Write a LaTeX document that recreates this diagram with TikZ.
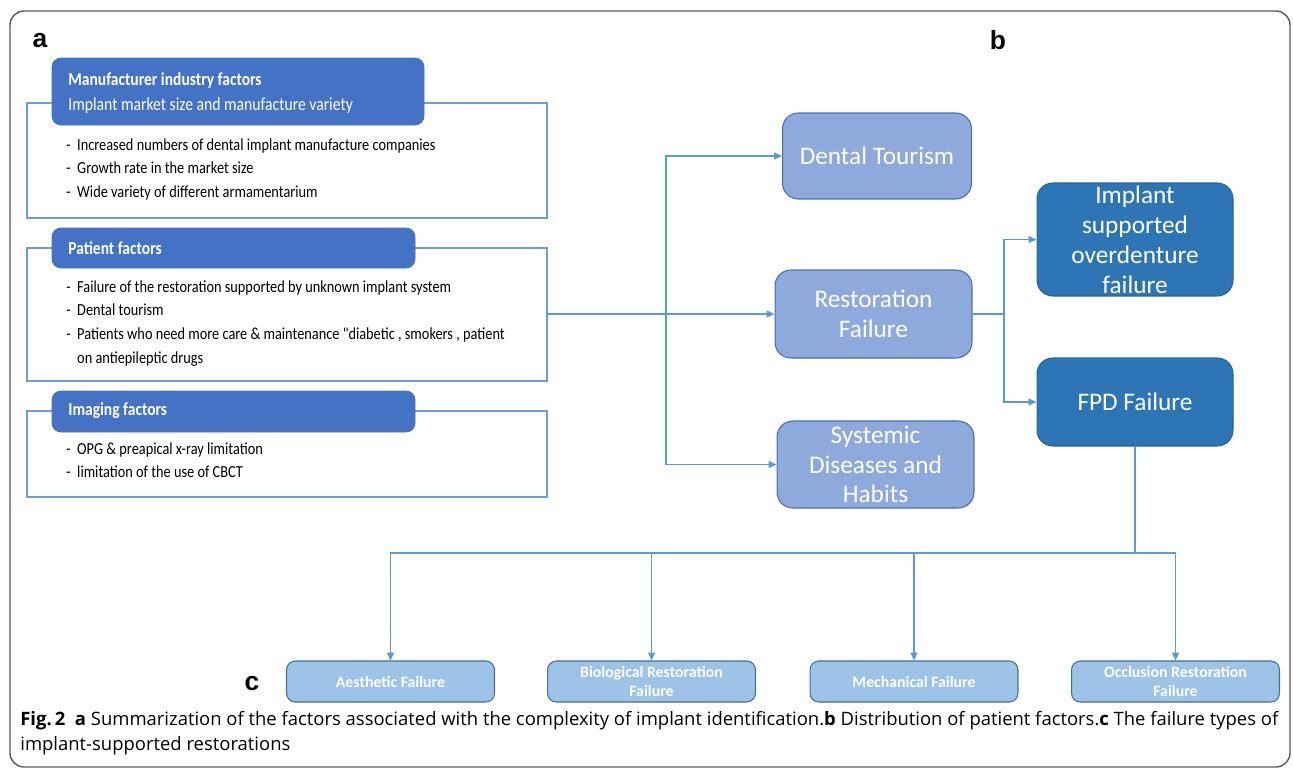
\documentclass[tikz,border=0pt]{standalone}
\usepackage{fontspec}
\setmainfont{Open Sans}
\newfontfamily\calib{Carlito}
\newfontfamily\calibcond[FakeStretch=0.85]{Carlito}
\newfontfamily\arialb{Liberation Sans}
\usetikzlibrary{arrows.meta}
\definecolor{headblue}{HTML}{4472C4}
\definecolor{outline}{HTML}{6F9BDA}
\definecolor{midfill}{HTML}{8EA9DB}
\definecolor{midedge}{HTML}{4A6FB5}
\definecolor{darkfill}{HTML}{2E75B6}
\definecolor{lightfill}{HTML}{9DC3E6}
\definecolor{lightedge}{HTML}{41719C}
\definecolor{linkblue}{HTML}{5B9BD5}
\tikzset{
  facbox/.style={draw=outline, line width=0.7pt},
  headbox/.style={fill=headblue, draw=headblue, rounded corners=5pt},
  headtext/.style={anchor=west, text=white, font=\calibcond\bfseries\fontsize{10.4}{12}\selectfont, inner sep=0pt},
  bullets/.style={anchor=north west, align=left, inner sep=0pt, font=\calibcond\fontsize{9.6}{13.6}\selectfont},
  midbox/.style={fill=midfill, draw=midedge, line width=0.6pt, rounded corners=9pt, text=white,
    align=center, font=\calib\fontsize{14.4}{17}\selectfont, inner sep=0pt},
  darkbox/.style={midbox, fill=darkfill, draw=darkfill!85!black},
  failbox/.style={fill=lightfill, draw=lightedge, line width=0.6pt, rounded corners=5pt, text=white,
    align=center, font=\calib\bfseries\fontsize{9}{10.8}\selectfont, inner sep=0pt,
    minimum width=4.16cm, minimum height=0.82cm},
  link/.style={draw=linkblue, line width=0.85pt, -{Triangle[length=4.5pt,width=4pt]}},
  panel/.style={font=\arialb\bfseries\fontsize{15}{15}\selectfont, inner sep=0pt}
}
\begin{document}
\begin{tikzpicture}[x=0.02cm, y=-0.02cm]
\useasboundingbox (0,0) rectangle (1293,768);
% outer frame
\draw[gray!70!black, line width=0.8pt, rounded corners=8pt] (10,11) rectangle (1290,767);
\node[panel] (la) at (40,41) {a};
\node[panel] (lb) at (998,40) {b};
\node[panel] (lc) at (252,684) {c};

% panel a
\draw[facbox] (27,103) rectangle (547,218);
\draw[headbox] (52,58) rectangle (424,125);
\node[headtext] (h1a) at (68,81) {Manufacturer industry factors};
\node[headtext, font=\calibcond\fontsize{10.5}{12}\selectfont] (h1b) at (68,106) {Implant market size and manufacture variety};
\node[bullets] (b1) at (66,138) {-\ \ Increased numbers of dental implant manufacture companies\\
  -\ \ Growth rate in the market size\\
  -\ \ Wide variety of different armamentarium};

\draw[facbox] (27,248) rectangle (547,381);
\coordinate (fac2) at (547,314);
\draw[headbox] (52,228) rectangle (415,268);
\node[headtext] (h2) at (68,248) {Patient factors};
\node[bullets] (b2) at (66,280) {-\ \ Failure of the restoration supported by unknown implant system\\
  -\ \ Dental tourism\\
  -\ \ Patients who need more care \& maintenance "diabetic , smokers , patient\\
  \phantom{-\ \ }on antiepileptic drugs};

\draw[facbox] (27,411) rectangle (547,497);
\draw[headbox] (52,391) rectangle (415,432);
\node[headtext] (h3) at (68,411) {Imaging factors};
\node[bullets] (b3) at (66,442) {-\ \ OPG \& preapical x-ray limitation\\
  -\ \ limitation of the use of CBCT};

% panel b
\node[midbox, minimum width=3.78cm, minimum height=1.72cm] (dental) at (877,156) {Dental Tourism};
\node[midbox, minimum width=3.94cm, minimum height=1.76cm] (restor) at (873.5,314) {Restoration\\Failure};
\node[midbox, minimum width=3.94cm, minimum height=1.74cm] (systemic) at (875.5,464.5) {Systemic\\Diseases and\\Habits};
\node[darkbox, minimum width=3.92cm, minimum height=2.26cm] (overden) at (1135,239.5) {Implant\\supported\\overdenture\\failure};
\node[darkbox, minimum width=3.92cm, minimum height=1.76cm] (fpd) at (1135,402) {FPD Failure};

\coordinate (split) at (666,314);
\draw[link] (fac2) -- (restor.west);
\draw[link] (split) |- (dental.west);
\draw[link] (split) |- (systemic.west);
\coordinate (fork) at (1004,314);
\draw[draw=linkblue, line width=0.85pt] (restor.east) -- (fork);
\draw[link] (fork) |- (overden.west);
\draw[link] (fork) |- (fpd.west);

% panel c
\node[failbox] (aesth) at (390.5,681.5) {Aesthetic Failure};
\node[failbox] (bio) at (651.5,681.5) {Biological Restoration\\Failure};
\node[failbox] (mech) at (914,681.5) {Mechanical Failure};
\node[failbox] (occl) at (1175.5,681.5) {Occlusion Restoration\\Failure};
\coordinate (bus) at (1135,553);
\draw[draw=linkblue, line width=0.85pt] (fpd.south) -- (bus);
\foreach \n in {aesth,bio,mech,occl}
  \draw[link] (bus) -| (\n.north);

% caption
\node[anchor=north west, align=left, inner sep=0pt, font=\fontsize{10.5}{14.2}\selectfont] (cap) at (20,711)
  {\textbf{Fig.\,2}\ \ \textbf{a} Summarization of the factors associated with the complexity of implant identification.\textbf{b} Distribution of patient factors.\textbf{c} The failure types of\\
  implant-supported restorations};
\end{tikzpicture}
\end{document}
